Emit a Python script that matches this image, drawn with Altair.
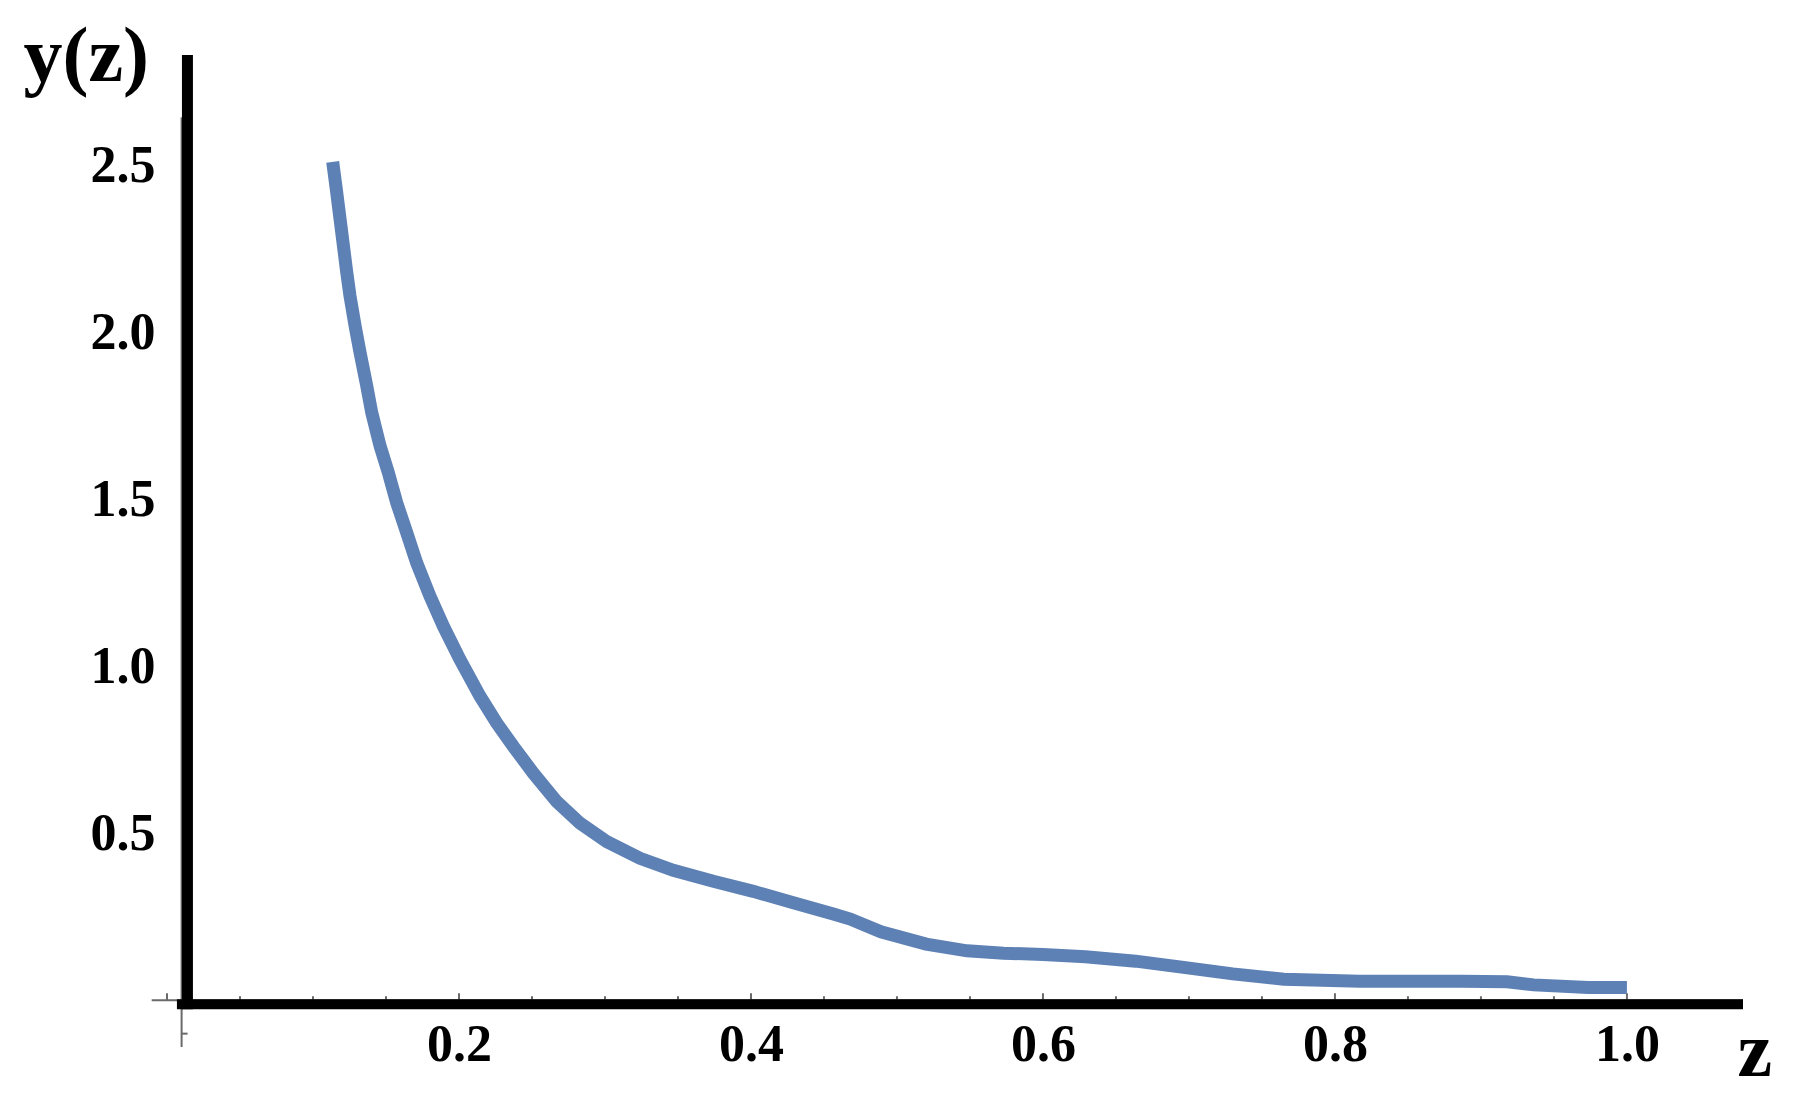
import altair as alt
import pandas as pd

# curve y(z)
z_vals = [0.1135, 0.1162, 0.1185, 0.1208, 0.1231, 0.1253, 0.1288, 0.1322, 0.1368, 0.1402,
          0.1459, 0.1516, 0.1573, 0.1642, 0.1710, 0.1801, 0.1893, 0.2007, 0.2144, 0.2258,
          0.2372, 0.2509, 0.2669, 0.2829, 0.3012, 0.3240, 0.3468, 0.3742, 0.4016, 0.4290,
          0.4564, 0.4680, 0.4890, 0.5200, 0.5480, 0.5730, 0.6000, 0.6290, 0.6635, 0.6950,
          0.7300, 0.7650, 0.8170, 0.8870, 0.9180, 0.9360, 0.9735, 1.0000]
y_vals = [2.51, 2.42, 2.34, 2.26, 2.18, 2.11, 2.02, 1.94, 1.84, 1.76,
          1.66, 1.58, 1.49, 1.40, 1.31, 1.21, 1.12, 1.02, 0.91, 0.83,
          0.76, 0.68, 0.595, 0.53, 0.475, 0.425, 0.389, 0.356, 0.326, 0.292,
          0.258, 0.243, 0.205, 0.168, 0.148, 0.141, 0.137, 0.130, 0.117, 0.099,
          0.079, 0.063, 0.057, 0.057, 0.055, 0.046, 0.038, 0.038]

x_labels = [0.2, 0.4, 0.6, 0.8, 1.0]
y_labels = [0.5, 1.0, 1.5, 2.0, 2.5]
x_major_ticks = [0.0, 0.2, 0.4, 0.6, 0.8, 1.0]
x_minor_ticks = [0.05, 0.1, 0.15, 0.25, 0.3, 0.35, 0.45, 0.5, 0.55, 0.65, 0.7, 0.75,
                 0.85, 0.9, 0.95]
y_minor_ticks = [-0.1]

X_DOMAIN = [0.0, 1.0795]
Y_DOMAIN = [-0.14, 2.83]

curve_df = pd.DataFrame({"z": z_vals, "y": y_vals})

xs = alt.Scale(domain=X_DOMAIN, nice=False, zero=False)
ys = alt.Scale(domain=Y_DOMAIN, nice=False, zero=False)

FONT = "Liberation Serif"
BLUE = "#5E81B5"
GRAY = "#6a6a6a"

x_axis = alt.Axis(
    values=x_labels, format=".1f", ticks=False, domain=False, grid=False,
    labelFont=FONT, labelFontWeight="bold", labelFontSize=52, labelColor="black",
    labelPadding=-28, labelOverlap=False, labelBound=False, labelFlush=False,
    title="z", titleFont=FONT, titleFontWeight="bold", titleFontSize=78,
    titleColor="black", titleX=1570, titleY=28, titleAlign="left",
    titleBaseline="alphabetic")
y_axis = alt.Axis(
    values=y_labels, format=".1f", ticks=False, domain=False, grid=False,
    labelFont=FONT, labelFontWeight="bold", labelFontSize=52, labelColor="black",
    labelPadding=12, labelOverlap=False, labelBound=False, labelFlush=False,
    title="y(z)", titleFont=FONT, titleFontWeight="bold", titleFontSize=78,
    titleColor="black", titleAngle=0, titleX=-144, titleY=25, titleAlign="left",
    titleBaseline="alphabetic")


def X(field):
    return alt.X(field, scale=xs, axis=x_axis, title="z")


def Y(field):
    return alt.Y(field, scale=ys, axis=y_axis, title="y(z)")


curve = alt.Chart(curve_df).mark_line(
    color=BLUE, strokeWidth=13, strokeCap="butt", strokeJoin="miter"
).encode(x=X("z:Q"), y=Y("y:Q"))

# thin gray Mathematica-style axes
gray_axes_df = pd.DataFrame({
    "z": [0.01, -0.0105], "z2": [0.01, 1.0795],
    "y": [-0.14, 0.0], "y2": [2.644, 0.0],
})
gray_axes = alt.Chart(gray_axes_df).mark_rule(color=GRAY, strokeWidth=2).encode(
    x=X("z:Q"), x2="z2:Q", y=Y("y:Q"), y2="y2:Q",
)

major_df = pd.DataFrame({"z": x_major_ticks, "y": [0.0] * len(x_major_ticks)})
minor_df = pd.DataFrame({"z": x_minor_ticks, "y": [0.0] * len(x_minor_ticks)})
ytick_df = pd.DataFrame({"z": [0.01] * len(y_minor_ticks), "y": y_minor_ticks})

major_ticks = alt.Chart(major_df).mark_tick(
    orient="vertical", size=7, thickness=2, color=GRAY, yOffset=-3.5, opacity=1
).encode(x=X("z:Q"), y=Y("y:Q"))
minor_ticks = alt.Chart(minor_df).mark_tick(
    orient="vertical", size=4, thickness=2, color=GRAY, yOffset=-2, opacity=1
).encode(x=X("z:Q"), y=Y("y:Q"))
y_ticks = alt.Chart(ytick_df).mark_tick(
    orient="horizontal", size=6, thickness=2, color=GRAY, xOffset=3, opacity=1
).encode(x=X("z:Q"), y=Y("y:Q"))

# heavy black axis lines drawn over
black_df = pd.DataFrame({
    "z": [0.0068, 0.014], "z2": [1.0795, 0.014],
    "y": [-0.012, -0.027], "y2": [-0.012, 2.83],
    "w": [10, 11],
})
black_axes = alt.Chart(black_df).mark_rule(color="black", strokeCap="butt").encode(
    x=X("z:Q"), x2="z2:Q", y=Y("y:Q"), y2="y2:Q",
    strokeWidth=alt.StrokeWidth("w:Q", scale=None, legend=None),
)

chart = alt.layer(
    gray_axes, major_ticks, minor_ticks, y_ticks, black_axes, curve
).properties(
    width=1576, height=992,
    autosize=alt.AutoSizeParams(type="none"),
    padding={"left": 159, "top": 47, "right": 40, "bottom": 45},
    background="white",
).configure_view(strokeWidth=0)

chart.save("out.html", embed_options={"renderer": "svg", "actions": False})
